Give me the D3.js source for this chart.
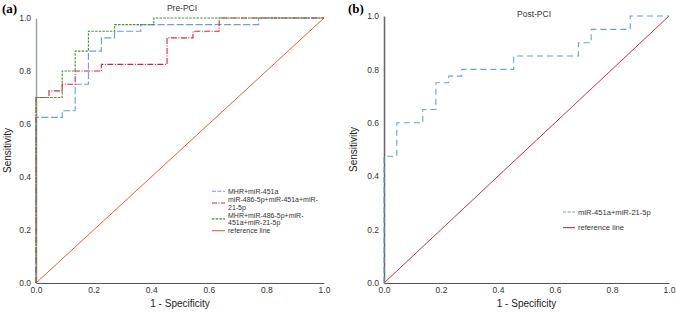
<!DOCTYPE html>
<html>
<head>
<meta charset="utf-8">
<script src="https://cdn.jsdelivr.net/npm/d3@7"></script>
<style>
  body { margin: 0; background: #fff; }
  svg { display: block; font-family: "Liberation Sans", Arial, sans-serif; }
</style>
</head>
<body>
<svg id="chart" width="676" height="312"></svg>
<script>
// tick values shared by both panels
const ticks = [0, 0.2, 0.4, 0.6, 0.8, 1.0];

// panel (a) Pre-PCI
const preBlueFpr = [0, 0, 0.091, 0.136, 0.182, 0.227, 0.273, 0.364, 0.773, 1];
const preBlueTpr = [0, 0.625, 0.65, 0.75, 0.875, 0.925, 0.95, 0.975, 1.0, 1.0];
const preRedFpr = [0, 0, 0.045, 0.091, 0.136, 0.227, 0.455, 0.545, 0.636, 1];
const preRedTpr = [0, 0.70, 0.725, 0.75, 0.80, 0.825, 0.925, 0.95, 1.0, 1.0];
const preGreenFpr = [0, 0, 0.091, 0.136, 0.182, 0.273, 0.409, 1];
const preGreenTpr = [0, 0.70, 0.80, 0.875, 0.95, 0.975, 1.0, 1.0];

// panel (b) Post-PCI
const postBlueFpr = [0, 0, 0.045, 0.136, 0.182, 0.227, 0.273, 0.455, 0.682, 0.727, 0.864, 1];
const postBlueTpr = [0, 0.475, 0.60, 0.65, 0.75, 0.775, 0.80, 0.85, 0.90, 0.95, 1.0, 1.0];

const refFpr = [0, 1];
const refTpr = [0, 1];

const zip = (xs, ys) => xs.map((x, i) => [x, ys[i]]);

const svg = d3.select("#chart");

const drawPanel = (cfg) => {
  const x = d3.scaleLinear().domain([0, 1]).range([cfg.left, cfg.right]);
  const y = d3.scaleLinear().domain([0, 1]).range([cfg.bottom, cfg.top]);
  const g = svg.append("g");

  // x axis
  const xa = g.append("g")
    .attr("transform", `translate(0,${cfg.bottom})`)
    .call(d3.axisBottom(x).tickValues(ticks).tickFormat(d3.format(".1f")).tickSize(0).tickPadding(4));
  xa.select(".domain").attr("stroke", "#555").attr("stroke-width", 1.2);
  xa.selectAll("text").attr("font-size", 8.5).attr("fill", "#333").attr("font-family", "inherit");

  // y axis
  const ya = g.append("g")
    .attr("transform", `translate(${cfg.left},0)`)
    .call(d3.axisLeft(y).tickValues(ticks).tickFormat(d3.format(".1f")).tickSize(0).tickPadding(5));
  ya.select(".domain").attr("stroke", cfg.yAxisColor).attr("stroke-width", 1.5);
  ya.selectAll("text").attr("font-size", 8.5).attr("fill", "#333").attr("font-family", "inherit");

  const line = d3.line().x((d) => x(d[0])).y((d) => y(d[1])).curve(d3.curveStepAfter);
  const straight = d3.line().x((d) => x(d[0])).y((d) => y(d[1]));

  // reference diagonal
  g.append("path")
    .attr("d", straight(zip(refFpr, refTpr)))
    .attr("fill", "none")
    .attr("stroke", cfg.refColor)
    .attr("stroke-width", 1);

  cfg.series.forEach((s) => {
    g.append("path")
      .attr("d", line(s.points))
      .attr("fill", "none")
      .attr("stroke", s.color)
      .attr("stroke-width", 1.1)
      .attr("stroke-dasharray", s.dash);
  });

  // title
  g.append("text")
    .attr("x", cfg.titleX).attr("y", cfg.titleY)
    .attr("text-anchor", "middle")
    .attr("font-size", 8.5).attr("fill", "#333")
    .text(cfg.title);

  // panel letter
  g.append("text")
    .attr("x", cfg.letterX).attr("y", 13)
    .attr("font-family", "'Liberation Serif', 'DejaVu Serif', serif")
    .attr("font-weight", "bold")
    .attr("font-size", 13)
    .text(cfg.letter);

  // axis labels
  g.append("text")
    .attr("x", (cfg.left + cfg.right) / 2).attr("y", 307)
    .attr("text-anchor", "middle")
    .attr("font-size", 10).attr("fill", "#222")
    .text("1 - Specificity");
  g.append("text")
    .attr("transform", `translate(${cfg.yLabelX},${(cfg.top + cfg.bottom) / 2}) rotate(-90)`)
    .attr("text-anchor", "middle")
    .attr("font-size", 10).attr("fill", "#222")
    .text("Sensitivity");

  // legend - baselines stacked so the text boxes don't collide
  let base = cfg.legendTop;
  const tx = cfg.legendX + cfg.legendLen + 3;
  cfg.legend.forEach((item) => {
    const n = item.lines.length;
    const midY = base - 2.6 + (n - 1) * cfg.legendGap / 2;
    g.append("line")
      .attr("x1", cfg.legendX).attr("x2", cfg.legendX + cfg.legendLen)
      .attr("y1", midY).attr("y2", midY)
      .attr("stroke", item.color)
      .attr("stroke-width", 1.1)
      .attr("stroke-dasharray", item.dash);
    const t = g.append("text")
      .attr("x", tx).attr("y", base)
      .attr("font-size", cfg.legendFont).attr("fill", "#333");
    item.lines.forEach((ln, i) => {
      t.append("tspan")
        .attr("x", tx)
        .attr("dy", i === 0 ? 0 : cfg.legendGap)
        .text(ln);
    });
    base += n * cfg.legendGap + item.after;
  });
};

const blue = "#6b9fd6";
const red = "#d8283c";
const green = "#4f8d3b";

drawPanel({
  left: 36, right: 324, top: 18, bottom: 283,
  yAxisColor: "#9aa89a",
  refColor: "#e4603c",
  title: "Pre-PCI", titleX: 182, titleY: 11,
  letter: "(a)", letterX: 2, yLabelX: 11,
  series: [
    { points: zip(preBlueFpr, preBlueTpr), color: blue, dash: "7,2.5" },
    { points: zip(preRedFpr, preRedTpr), color: red, dash: "6,1.5,1,1.5" },
    { points: zip(preGreenFpr, preGreenTpr), color: green, dash: "2.5,1.2" }
  ],
  legendX: 212, legendLen: 13, legendTop: 193.8, legendGap: 7.9, legendFont: 7,
  legend: [
    { color: blue, dash: "4,1.5", lines: ["MHR+miR-451a"], after: 0 },
    { color: red, dash: "5,1.5,1,1.5", lines: ["miR-486-5p+miR-451a+miR-", "21-5p"], after: 0 },
    { color: green, dash: "2.5,1.2", lines: ["MHR+miR-486-5p+miR-", "451a+miR-21-5p"], after: 0 },
    { color: "#e4603c", dash: null, lines: ["reference line"], after: 0 }
  ]
});

drawPanel({
  left: 384, right: 669, top: 16, bottom: 283,
  yAxisColor: "#666",
  refColor: "#b8384a",
  title: "Post-PCI", titleX: 534, titleY: 17,
  letter: "(b)", letterX: 348, yLabelX: 357,
  series: [
    { points: zip(postBlueFpr, postBlueTpr), color: blue, dash: "6,4" }
  ],
  legendX: 563, legendLen: 12, legendTop: 214.6, legendGap: 7.9, legendFont: 7.6,
  legend: [
    { color: blue, dash: "3,1.5", lines: ["miR-451a+miR-21-5p"], after: 7.7 },
    { color: "#b8384a", dash: null, lines: ["reference line"], after: 0 }
  ]
});
</script>
</body>
</html>
